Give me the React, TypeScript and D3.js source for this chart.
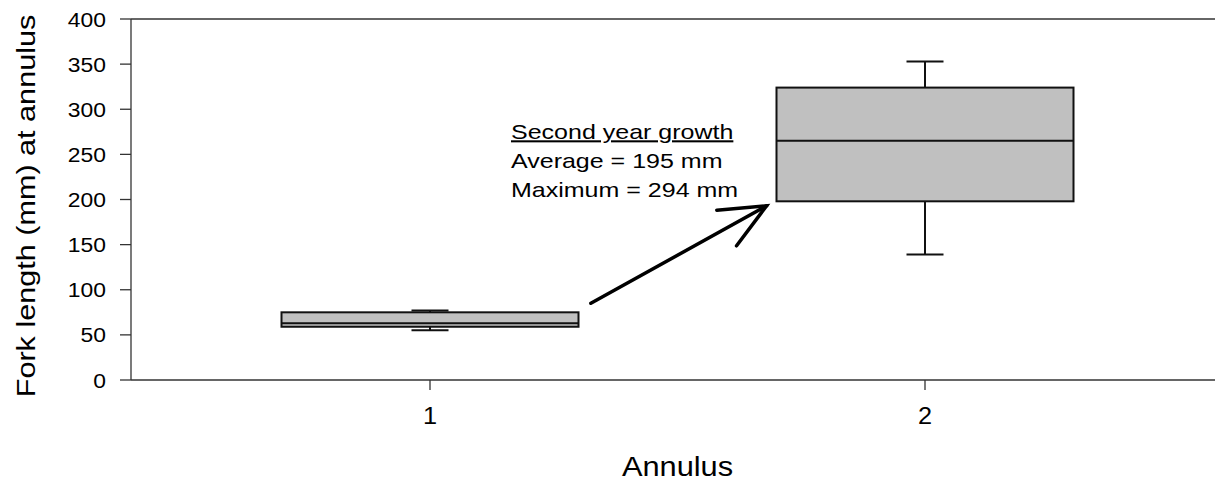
import * as React from "react";
import * as d3 from "d3";

const categories = [1, 2];
const q1 = [59, 198];
const medians = [63, 265];
const q3 = [75, 324];
const whiskerLow = [55, 139];
const whiskerHigh = [77, 353];
const yTicks = [0, 50, 100, 150, 200, 250, 300, 350, 400];
const noteLines = ["Second year growth", "Average = 195 mm", "Maximum = 294 mm"];
// arrow start/end in data units
const arrowFrom = [1.325, 85];
const arrowTo = [1.68, 193];

// text drawn a bit wider than the installed font, like the original
const Stretch = ({ x, y, sx, rotate = 0, anchor = "start", size, children, underline = false }: any) => (
  <g transform={`translate(${x},${y}) rotate(${rotate}) scale(${sx},1)`}>
    <text
      x={0}
      y={0}
      textAnchor={anchor}
      fontSize={size}
      fill="#000"
      textDecoration={underline ? "underline" : undefined}
    >
      {children}
    </text>
  </g>
);

export default function App() {
  const width = 1215;
  const height = 484;
  const left = 131;
  const top = 19;
  const bottom = 380;

  const x = d3.scaleLinear().domain([1, 2]).range([430, 925]);
  const y = d3.scaleLinear().domain([0, 400]).range([bottom, top]);
  const boxHalf = x(1.3) - x(1);
  const capHalf = 18.5;
  const font = "Liberation Sans, Arial, sans-serif";

  const ax = x(arrowFrom[0]);
  const ay = y(arrowFrom[1]);
  const bx = x(arrowTo[0]);
  const by = y(arrowTo[1]);
  const ang = Math.atan2(by - ay, bx - ax);
  const headLen = 50;
  const headSpread = 0.42;
  const h1 = [bx - headLen * Math.cos(ang - headSpread), by - headLen * Math.sin(ang - headSpread)];
  const h2 = [bx - headLen * Math.cos(ang + headSpread), by - headLen * Math.sin(ang + headSpread)];

  return (
    <svg
      width={width}
      height={height}
      style={{ position: "absolute", left: 0, top: 0, background: "#fff" }}
      fontFamily={font}
    >
      {/* frame */}
      <line x1={left} x2={width} y1={top} y2={top} stroke="#333" strokeWidth={1.3} />
      <line x1={left} x2={width} y1={bottom} y2={bottom} stroke="#333" strokeWidth={1.3} />
      <line x1={left} x2={left} y1={top} y2={bottom} stroke="#333" strokeWidth={1.3} />

      {yTicks.map((t) => (
        <g key={t}>
          <line x1={left - 11} x2={left} y1={y(t)} y2={y(t)} stroke="#333" strokeWidth={1.3} />
          <Stretch x={106} y={y(t) + 7.5} sx={1.09} anchor="end" size={21}>
            {t}
          </Stretch>
        </g>
      ))}

      {categories.map((c) => (
        <g key={c}>
          <line x1={x(c)} x2={x(c)} y1={bottom} y2={bottom + 10} stroke="#333" strokeWidth={1.3} />
          <Stretch x={x(c)} y={424} sx={1.1} anchor="middle" size={23}>
            {c}
          </Stretch>
        </g>
      ))}

      {categories.map((c, i) => (
        <g key={"box" + c} stroke="#111" strokeWidth={2}>
          <line x1={x(c)} x2={x(c)} y1={y(q3[i])} y2={y(whiskerHigh[i])} />
          <line x1={x(c)} x2={x(c)} y1={y(q1[i])} y2={y(whiskerLow[i])} />
          <line x1={x(c) - capHalf} x2={x(c) + capHalf} y1={y(whiskerHigh[i])} y2={y(whiskerHigh[i])} />
          <line x1={x(c) - capHalf} x2={x(c) + capHalf} y1={y(whiskerLow[i])} y2={y(whiskerLow[i])} />
          <rect
            x={x(c) - boxHalf}
            y={y(q3[i])}
            width={boxHalf * 2}
            height={y(q1[i]) - y(q3[i])}
            fill="#c0c0c0"
          />
          <line x1={x(c) - boxHalf} x2={x(c) + boxHalf} y1={y(medians[i])} y2={y(medians[i])} />
        </g>
      ))}

      {/* annotation */}
      {noteLines.map((s, i) => (
        <Stretch key={s} x={511} y={138.5 + i * 29} sx={1.22} size={20.5} underline={i === 0}>
          {s}
        </Stretch>
      ))}
      <g stroke="#000" strokeWidth={3.5} strokeLinecap="round" fill="none">
        <line x1={ax} y1={ay} x2={bx} y2={by} />
        <polyline points={`${h1[0]},${h1[1]} ${bx},${by} ${h2[0]},${h2[1]}`} />
      </g>

      <Stretch x={x(1.5)} y={476} sx={1.1} anchor="middle" size={28}>
        Annulus
      </Stretch>
      <Stretch x={35} y={206} sx={1.2} rotate={-90} anchor="middle" size={25.5}>
        Fork length (mm) at annulus
      </Stretch>
    </svg>
  );
}
